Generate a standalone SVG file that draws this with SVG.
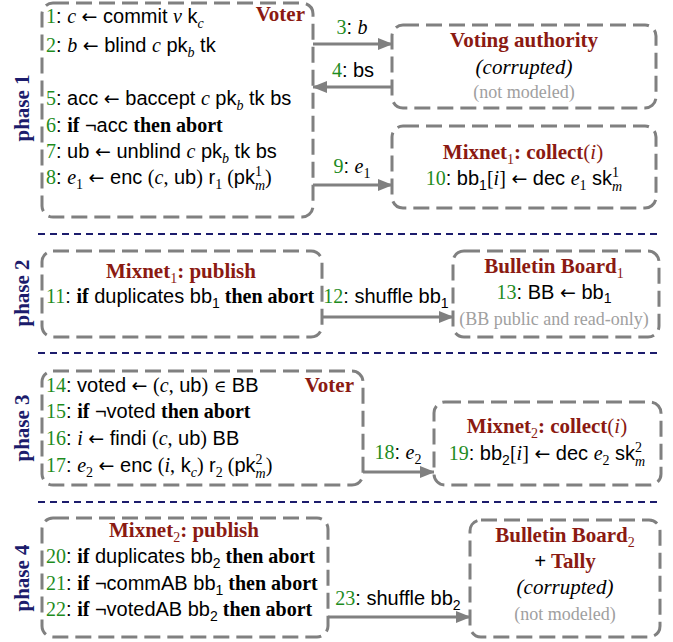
<svg xmlns="http://www.w3.org/2000/svg" width="673" height="642" viewBox="0 0 673 642">
<defs>
<style>
text{font-family:"Liberation Sans",Arial,sans-serif;font-size:20px;fill:#000}
.n{font-family:"Liberation Serif","Times New Roman",serif;fill:#1e8c1e}
.s{font-family:"Liberation Serif","Times New Roman",serif}
.i{font-family:"Liberation Serif","Times New Roman",serif;font-style:italic}
.b{font-family:"Liberation Serif","Times New Roman",serif;font-weight:bold}
.a{font-family:"DejaVu Sans",sans-serif;font-size:19px}
.e{font-family:"DejaVu Serif",serif;font-size:17px}
.sm{font-size:14px}
.h{font-family:"Liberation Serif","Times New Roman",serif;font-weight:bold;font-size:21px;fill:#8b1a12}
.it{font-family:"Liberation Serif","Times New Roman",serif;font-style:italic;font-size:21px}
.g{font-family:"Liberation Serif","Times New Roman",serif;font-size:18px;fill:#a0a0a0}
.ph{font-family:"Liberation Serif","Times New Roman",serif;font-weight:bold;font-size:21px;fill:#1c1c6c}
.box{fill:#fff;stroke:#808080;stroke-width:3;stroke-dasharray:16 7}
.sep{stroke:#1c1c6c;stroke-width:2.2;stroke-dasharray:7 5;fill:none}
.ar{stroke:#808080;stroke-width:3;fill:none;marker-end:url(#ah)}
.c{text-anchor:middle}
.r{text-anchor:end}
</style>
<marker id="ah" markerUnits="userSpaceOnUse" markerWidth="15" markerHeight="12" refX="14" refY="6" orient="auto">
<path d="M0,0 L15,6 L0,12 z" fill="#808080"/>
</marker>
</defs>

<g id="separators">
<line class="sep" x1="38" y1="234" x2="660" y2="234"/>
<line class="sep" x1="38" y1="353" x2="660" y2="353"/>
<line class="sep" x1="38" y1="502" x2="660" y2="502"/>
</g>

<g id="phase-labels">
<text class="ph c" transform="translate(29,108) rotate(-90)">phase 1</text>
<text class="ph c" transform="translate(29,293) rotate(-90)">phase 2</text>
<text class="ph c" transform="translate(29,428) rotate(-90)">phase 3</text>
<text class="ph c" transform="translate(29,578) rotate(-90)">phase 4</text>
</g>

<g id="connectors">
<line class="ar" x1="313" y1="44" x2="392" y2="44"/>
<line class="ar" x1="392" y1="87" x2="313" y2="87"/>
<line class="ar" x1="313" y1="185" x2="392" y2="185"/>
<line class="ar" x1="322" y1="317" x2="453" y2="317"/>
<line class="ar" x1="363" y1="472" x2="434" y2="472"/>
<line class="ar" x1="328" y1="617" x2="470" y2="617"/>
<text class="c" x="352" y="34"><tspan class="n">3</tspan>: <tspan class="i">b</tspan></text>
<text class="c" x="353" y="77"><tspan class="n">4</tspan>: bs</text>
<text class="c" x="352" y="173"><tspan class="n">9</tspan>: <tspan class="i">e</tspan><tspan class="s sm" dy="5">1</tspan></text>
<text class="c" x="386" y="303"><tspan class="n">12</tspan>: shuffle bb<tspan class="sm" dy="5">1</tspan></text>
<text class="c" x="398" y="459"><tspan class="n">18</tspan>: <tspan class="i">e</tspan><tspan class="s sm" dy="5">2</tspan></text>
<text class="c" x="398" y="605"><tspan class="n">23</tspan>: shuffle bb<tspan class="sm" dy="5">2</tspan></text>
</g>

<g id="voter1">
<rect class="box" x="42" y="3" width="271" height="214" rx="11"/>
<text class="h r" x="305" y="21">Voter</text>
<text x="46" y="23"><tspan class="n">1</tspan>: <tspan class="i">c</tspan> <tspan class="a">←</tspan> commit <tspan class="i">v</tspan> k<tspan class="i sm" dy="5">c</tspan></text>
<text x="46" y="52"><tspan class="n">2</tspan>: <tspan class="i">b</tspan> <tspan class="a">←</tspan> blind <tspan class="i">c</tspan> pk<tspan class="i sm" dy="5">b</tspan><tspan dy="-5"> tk</tspan></text>
<text x="46" y="105"><tspan class="n">5</tspan>: acc <tspan class="a">←</tspan> baccept <tspan class="i">c</tspan> pk<tspan class="i sm" dy="5">b</tspan><tspan dy="-5"> tk bs</tspan></text>
<text x="46" y="132"><tspan class="n">6</tspan>: <tspan class="b">if</tspan> ¬acc <tspan class="b">then abort</tspan></text>
<text x="46" y="158"><tspan class="n">7</tspan>: ub <tspan class="a">←</tspan> unblind <tspan class="i">c</tspan> pk<tspan class="i sm" dy="5">b</tspan><tspan dy="-5"> tk bs</tspan></text>
<text x="46" y="184"><tspan class="n">8</tspan>: <tspan class="i">e</tspan><tspan class="s sm" dy="5">1</tspan><tspan dy="-5"> </tspan><tspan class="a">←</tspan> enc <tspan class="s">(</tspan><tspan class="i">c</tspan><tspan class="s">,</tspan> ub<tspan class="s">)</tspan>  r<tspan class="s sm" dy="5">1</tspan><tspan class="s" dy="-5"> (</tspan>pk<tspan class="s sm" dy="-8">1</tspan><tspan class="i sm" dx="-7" dy="14">m</tspan><tspan class="s" dy="-6">)</tspan></text>
</g>

<g id="voting-authority">
<rect class="box" x="392" y="25" width="264" height="83" rx="11"/>
<text class="h c" x="524" y="47">Voting authority</text>
<text class="it c" x="524" y="74">(corrupted)</text>
<text class="g c" x="524" y="98">(not modeled)</text>
</g>

<g id="mixnet1-collect">
<rect class="box" x="392" y="126" width="264" height="82" rx="11"/>
<text class="h c" x="523" y="159">Mixnet<tspan class="sm" dy="5" font-weight="normal">1</tspan><tspan dy="-5">: collect</tspan><tspan font-weight="normal">(</tspan><tspan font-weight="normal" font-style="italic">i</tspan><tspan font-weight="normal">)</tspan></text>
<text class="c" x="524" y="185"><tspan class="n">10</tspan>: bb<tspan class="sm" dy="5">1</tspan><tspan class="s" dy="-5">[</tspan><tspan class="i">i</tspan><tspan class="s">]</tspan> <tspan class="a">←</tspan> dec <tspan class="i">e</tspan><tspan class="s sm" dy="5">1</tspan><tspan dy="-5"> sk</tspan><tspan class="s sm" dy="-8">1</tspan><tspan class="i sm" dx="-7" dy="14">m</tspan></text>
</g>

<g id="mixnet1-publish">
<rect class="box" x="42" y="251" width="280" height="86" rx="11"/>
<text class="h c" x="181" y="278">Mixnet<tspan class="sm" dy="5" font-weight="normal">1</tspan><tspan dy="-5">: publish</tspan></text>
<text x="46" y="303"><tspan class="n">11</tspan>: <tspan class="b">if</tspan> duplicates bb<tspan class="sm" dy="5">1</tspan><tspan class="b" dy="-5">  then abort</tspan></text>
</g>

<g id="bulletin-board1">
<rect class="box" x="453" y="251" width="206" height="86" rx="11"/>
<text class="h c" x="554" y="273">Bulletin Board<tspan class="sm" dy="5" font-weight="normal">1</tspan></text>
<text class="c" x="554" y="299"><tspan class="n">13</tspan>: BB <tspan class="a">←</tspan> bb<tspan class="sm" dy="4">1</tspan></text>
<text class="g c" x="554" y="325">(BB public and read-only)</text>
</g>

<g id="voter3">
<rect class="box" x="42" y="371" width="321" height="114" rx="11"/>
<text class="h r" x="354" y="392">Voter</text>
<text x="46" y="392"><tspan class="n">14</tspan>: voted <tspan class="a">←</tspan> <tspan class="s">(</tspan><tspan class="i">c</tspan><tspan class="s">,</tspan> ub<tspan class="s">)</tspan> <tspan class="e">∈</tspan> BB</text>
<text x="46" y="418"><tspan class="n">15</tspan>: <tspan class="b">if</tspan> ¬voted <tspan class="b">then abort</tspan></text>
<text x="46" y="445"><tspan class="n">16</tspan>: <tspan class="i">i</tspan> <tspan class="a">←</tspan> findi <tspan class="s">(</tspan><tspan class="i">c</tspan><tspan class="s">,</tspan> ub<tspan class="s">)</tspan> BB</text>
<text x="46" y="472"><tspan class="n">17</tspan>: <tspan class="i">e</tspan><tspan class="s sm" dy="5">2</tspan><tspan dy="-5"> </tspan><tspan class="a">←</tspan> enc <tspan class="s">(</tspan><tspan class="i">i</tspan><tspan class="s">,</tspan> k<tspan class="i sm" dy="5">c</tspan><tspan class="s" dy="-5">)</tspan> r<tspan class="s sm" dy="5">2</tspan><tspan class="s" dy="-5"> (</tspan>pk<tspan class="s sm" dy="-8">2</tspan><tspan class="i sm" dx="-7" dy="14">m</tspan><tspan class="s" dy="-6">)</tspan></text>
</g>

<g id="mixnet2-collect">
<rect class="box" x="434" y="402" width="227" height="83" rx="11"/>
<text class="h c" x="547" y="433">Mixnet<tspan class="sm" dy="5" font-weight="normal">2</tspan><tspan dy="-5">: collect</tspan><tspan font-weight="normal">(</tspan><tspan font-weight="normal" font-style="italic">i</tspan><tspan font-weight="normal">)</tspan></text>
<text class="c" x="547" y="460"><tspan class="n">19</tspan>: bb<tspan class="sm" dy="5">2</tspan><tspan class="s" dy="-5">[</tspan><tspan class="i">i</tspan><tspan class="s">]</tspan> <tspan class="a">←</tspan> dec <tspan class="i">e</tspan><tspan class="s sm" dy="5">2</tspan><tspan dy="-5"> sk</tspan><tspan class="s sm" dy="-8">2</tspan><tspan class="i sm" dx="-7" dy="14">m</tspan></text>
</g>

<g id="mixnet2-publish">
<rect class="box" x="42" y="518" width="286" height="119" rx="11"/>
<text class="h c" x="184" y="537">Mixnet<tspan class="sm" dy="5" font-weight="normal">2</tspan><tspan dy="-5">: publish</tspan></text>
<text x="46" y="563"><tspan class="n">20</tspan>: <tspan class="b">if</tspan> duplicates bb<tspan class="sm" dy="5">2</tspan><tspan class="b" dy="-5"> then abort</tspan></text>
<text x="46" y="590"><tspan class="n">21</tspan>: <tspan class="b">if</tspan> ¬commAB bb<tspan class="sm" dy="5">1</tspan><tspan class="b" dy="-5">  then abort</tspan></text>
<text x="46" y="616"><tspan class="n">22</tspan>: <tspan class="b">if</tspan> ¬votedAB bb<tspan class="sm" dy="5">2</tspan><tspan class="b" dy="-5"> then abort</tspan></text>
</g>

<g id="bulletin-board2-tally">
<rect class="box" x="470" y="520" width="190" height="117" rx="11"/>
<text class="h c" x="565" y="542">Bulletin Board<tspan class="sm" dy="5" font-weight="normal">2</tspan></text>
<text class="h c" x="565" y="568"><tspan fill="#000">+</tspan> Tally</text>
<text class="it c" x="565" y="594">(corrupted)</text>
<text class="g c" x="565" y="620">(not modeled)</text>
</g>
</svg>
